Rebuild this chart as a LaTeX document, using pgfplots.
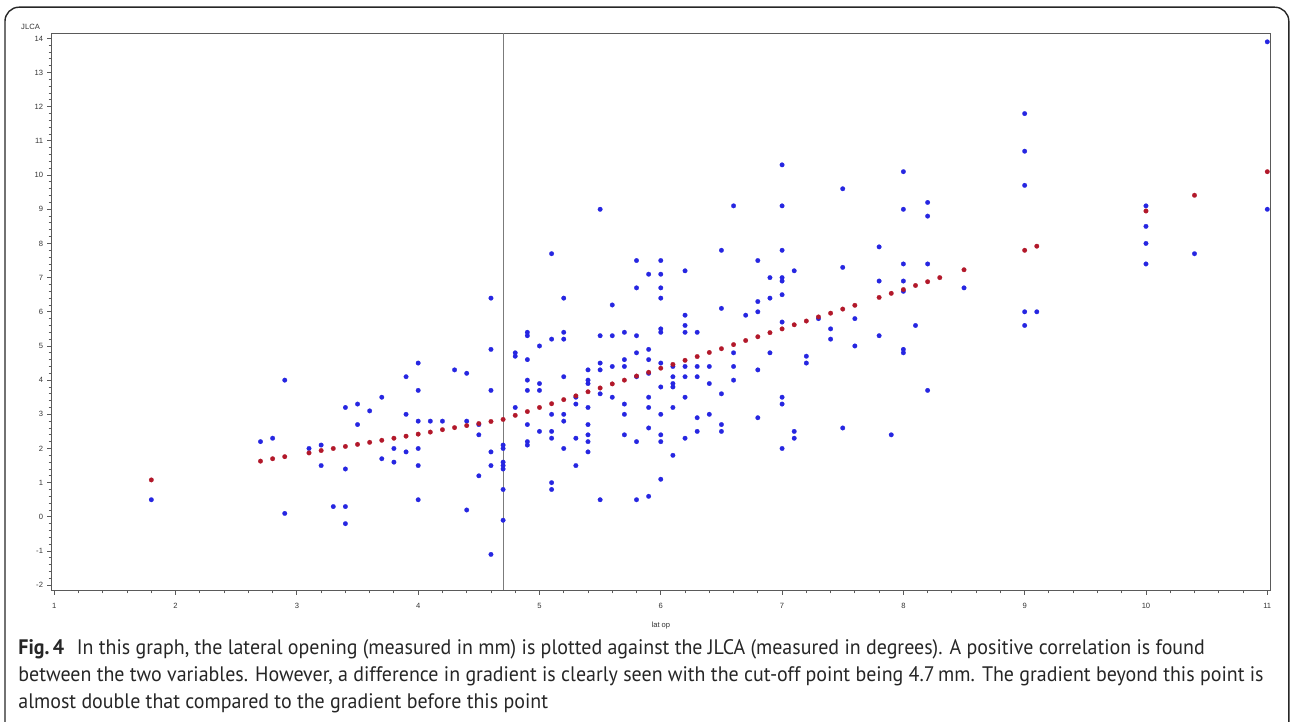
\documentclass[border=0pt]{standalone}
\usepackage{pgfplots}
\pgfplotsset{compat=1.18}
\usepackage{pgfplotstable}
\usepackage{fontspec}
\setmainfont{Liberation Sans}
\newfontfamily\capfont[FakeStretch=0.95]{PT Sans}
\definecolor{bluec}{RGB}{38,38,225}
\definecolor{redc}{RGB}{178,24,42}
\definecolor{axc}{RGB}{90,90,90}

\pgfplotstableread{
x y
1.8 0.5
2.7 2.2
2.8 2.3
2.9 4.0
2.9 0.1
3.1 2.0
3.2 2.1
3.2 1.5
3.3 0.3
3.4 3.2
3.4 1.4
3.4 0.3
3.4 -0.2
3.5 3.3
3.5 2.7
3.6 3.1
3.7 3.5
3.7 1.7
3.8 2.0
3.8 1.6
3.9 4.1
3.9 3.0
3.9 1.9
4.0 4.5
4.0 3.7
4.0 2.8
4.0 2.0
4.0 1.5
4.0 0.5
4.1 2.8
4.2 2.8
4.3 4.3
4.4 4.2
4.4 2.8
4.4 0.2
4.5 2.7
4.5 2.4
4.5 1.2
4.6 6.4
4.6 4.9
4.6 3.7
4.6 1.9
4.6 1.5
4.6 -1.1
4.7 2.1
4.7 2.0
4.7 1.6
4.7 1.5
4.7 1.4
4.7 0.8
4.7 -0.1
4.8 4.8
4.8 4.7
4.8 3.2
4.9 5.4
4.9 5.3
4.9 4.6
4.9 4.0
4.9 3.7
4.9 2.7
4.9 2.2
4.9 2.1
5.0 5.0
5.0 3.9
5.0 3.7
5.0 2.5
5.1 7.7
5.1 5.2
5.1 3.0
5.1 2.5
5.1 2.3
5.1 1.0
5.1 0.8
5.2 6.4
5.2 5.4
5.2 5.2
5.2 4.1
5.2 3.0
5.2 2.8
5.2 2.0
5.3 3.5
5.3 3.3
5.3 2.3
5.3 1.5
5.4 4.3
5.4 4.0
5.4 3.9
5.4 3.2
5.4 2.7
5.4 2.4
5.4 2.2
5.4 1.9
5.5 9.0
5.5 5.3
5.5 4.5
5.5 4.3
5.5 3.6
5.5 0.5
5.6 6.2
5.6 5.3
5.6 4.4
5.6 3.5
5.7 5.4
5.7 4.6
5.7 4.4
5.7 3.3
5.7 3.0
5.7 2.4
5.8 7.5
5.8 6.7
5.8 5.3
5.8 4.8
5.8 4.1
5.8 2.2
5.8 0.5
5.9 7.1
5.9 4.9
5.9 4.6
5.9 4.2
5.9 3.5
5.9 3.2
5.9 2.6
5.9 0.6
6.0 7.5
6.0 7.1
6.0 6.7
6.0 6.4
6.0 5.5
6.0 5.4
6.0 4.5
6.0 3.8
6.0 3.0
6.0 2.4
6.0 2.2
6.0 1.1
6.1 4.4
6.1 4.1
6.1 3.9
6.1 3.8
6.1 3.2
6.1 1.8
6.2 7.2
6.2 5.9
6.2 5.6
6.2 5.4
6.2 4.4
6.2 4.1
6.2 3.5
6.2 2.3
6.3 5.4
6.3 4.4
6.3 4.1
6.3 2.9
6.3 2.5
6.4 4.4
6.4 3.9
6.4 3.0
6.5 7.8
6.5 6.1
6.5 3.6
6.5 2.7
6.5 2.5
6.6 9.1
6.6 4.8
6.6 4.4
6.6 4.0
6.7 5.9
6.8 7.5
6.8 6.3
6.8 6.0
6.8 4.3
6.8 2.9
6.9 7.0
6.9 6.4
6.9 4.8
7.0 10.3
7.0 9.1
7.0 7.8
7.0 7.0
7.0 6.9
7.0 6.5
7.0 5.7
7.0 3.5
7.0 3.3
7.0 2.0
7.1 7.2
7.1 2.5
7.1 2.3
7.2 4.7
7.2 4.5
7.3 5.8
7.4 5.5
7.4 5.2
7.5 9.6
7.5 7.3
7.5 2.6
7.6 5.8
7.6 5.0
7.8 7.9
7.8 6.9
7.8 5.3
7.9 2.4
8.0 10.1
8.0 9.0
8.0 7.4
8.0 6.9
8.0 6.6
8.0 4.9
8.0 4.8
8.1 5.6
8.2 9.2
8.2 8.8
8.2 7.4
8.2 3.7
8.5 6.7
9.0 11.8
9.0 10.7
9.0 9.7
9.0 6.0
9.0 5.6
9.1 6.0
10.0 9.1
10.0 8.5
10.0 8.0
10.0 7.4
10.4 7.7
11.0 13.9
11.0 9.0
}\observed

\pgfplotstableread{
x y
1.8 1.08
2.7 1.63
2.8 1.70
2.9 1.76
3.1 1.87
3.2 1.94
3.3 2.00
3.4 2.06
3.5 2.12
3.6 2.18
3.7 2.24
3.8 2.30
3.9 2.36
4.0 2.42
4.1 2.48
4.2 2.55
4.3 2.61
4.4 2.67
4.5 2.73
4.6 2.79
4.7 2.85
4.8 2.97
4.9 3.08
5.0 3.20
5.1 3.31
5.2 3.43
5.3 3.54
5.4 3.66
5.5 3.77
5.6 3.89
5.7 4.00
5.8 4.12
5.9 4.23
6.0 4.35
6.1 4.46
6.2 4.58
6.3 4.69
6.4 4.81
6.5 4.92
6.6 5.04
6.7 5.16
6.8 5.27
6.9 5.39
7.0 5.50
7.1 5.62
7.2 5.73
7.3 5.85
7.4 5.96
7.5 6.08
7.6 6.19
7.8 6.42
7.9 6.54
8.0 6.65
8.1 6.77
8.2 6.88
8.3 7.00
8.5 7.23
9.0 7.80
9.1 7.92
10.0 8.95
10.4 9.41
11.0 10.10
}\predicted

\begin{document}
\begin{tikzpicture}[x=1pt,y=1pt]
\useasboundingbox (0,0) rectangle (645,361);
\draw[line width=0.7pt, black!85, rounded corners=7pt] (2.5,-6) -- (2.5,357.4) -- (644.4,357.4) -- (644.4,-6);
\begin{axis}[
  at={(25.75pt,65.85pt)}, anchor=south west,
  width=609.4pt, height=278.5pt, scale only axis,
  xmin=0.977, xmax=11.025, ymin=-2.15, ymax=14.15,
  xtick={1,2,...,11}, ytick={-2,-1,...,14},
  minor tick num=4,
  tick align=outside, xtick pos=bottom, ytick pos=left,
  major tick length=2.25pt, minor tick length=1.5pt,
  tick style={axc, line width=0.45pt},
  axis line style={axc, line width=0.55pt},
  /pgf/number format/assume math mode=true,
  ticklabel style={font=\fontsize{3.8}{4.5}\selectfont, text=black!80},
  xticklabel style={inner sep=0pt, yshift=-4.2pt},
  yticklabel style={inner sep=0pt, xshift=-1.8pt},
  xlabel={lat op}, ylabel={JLCA},
  label style={font=\fontsize{3.8}{4.5}\selectfont, text=black!80},
  xlabel style={at={(axis description cs:0.5,-0.064)}, anchor=center},
  ylabel style={rotate=-90, at={(axis description cs:-0.0172,1.012)}, anchor=center},
  clip=false,
]
\addplot[axc!80, line width=0.5pt] coordinates {(4.7,-2.15) (4.7,14.15)};
\addplot[only marks, color=bluec, mark=*, mark size=1.15pt, mark options={draw=bluec, fill=bluec, line width=0.1pt}] table[x=x,y=y] {\observed};
\addplot[only marks, color=redc, mark=*, mark size=1.15pt, mark options={draw=redc, fill=redc, line width=0.1pt}] table[x=x,y=y] {\predicted};
\end{axis}
\begin{scope}[every node/.style={anchor=base west, inner sep=0pt, font=\capfont\fontsize{10.5}{13.5}\selectfont, text=black!85}]
\node at (9,33.5) {\textbf{Fig.\,4}\hspace{0.6em}In this graph, the lateral opening (measured in mm) is plotted against the JLCA (measured in degrees). A positive correlation is found};
\node at (9,20) {between the two variables. However, a difference in gradient is clearly seen with the cut-off point being 4.7\,mm. The gradient beyond this point is};
\node at (9,6.5) {almost double that compared to the gradient before this point};
\end{scope}
\end{tikzpicture}
\end{document}
